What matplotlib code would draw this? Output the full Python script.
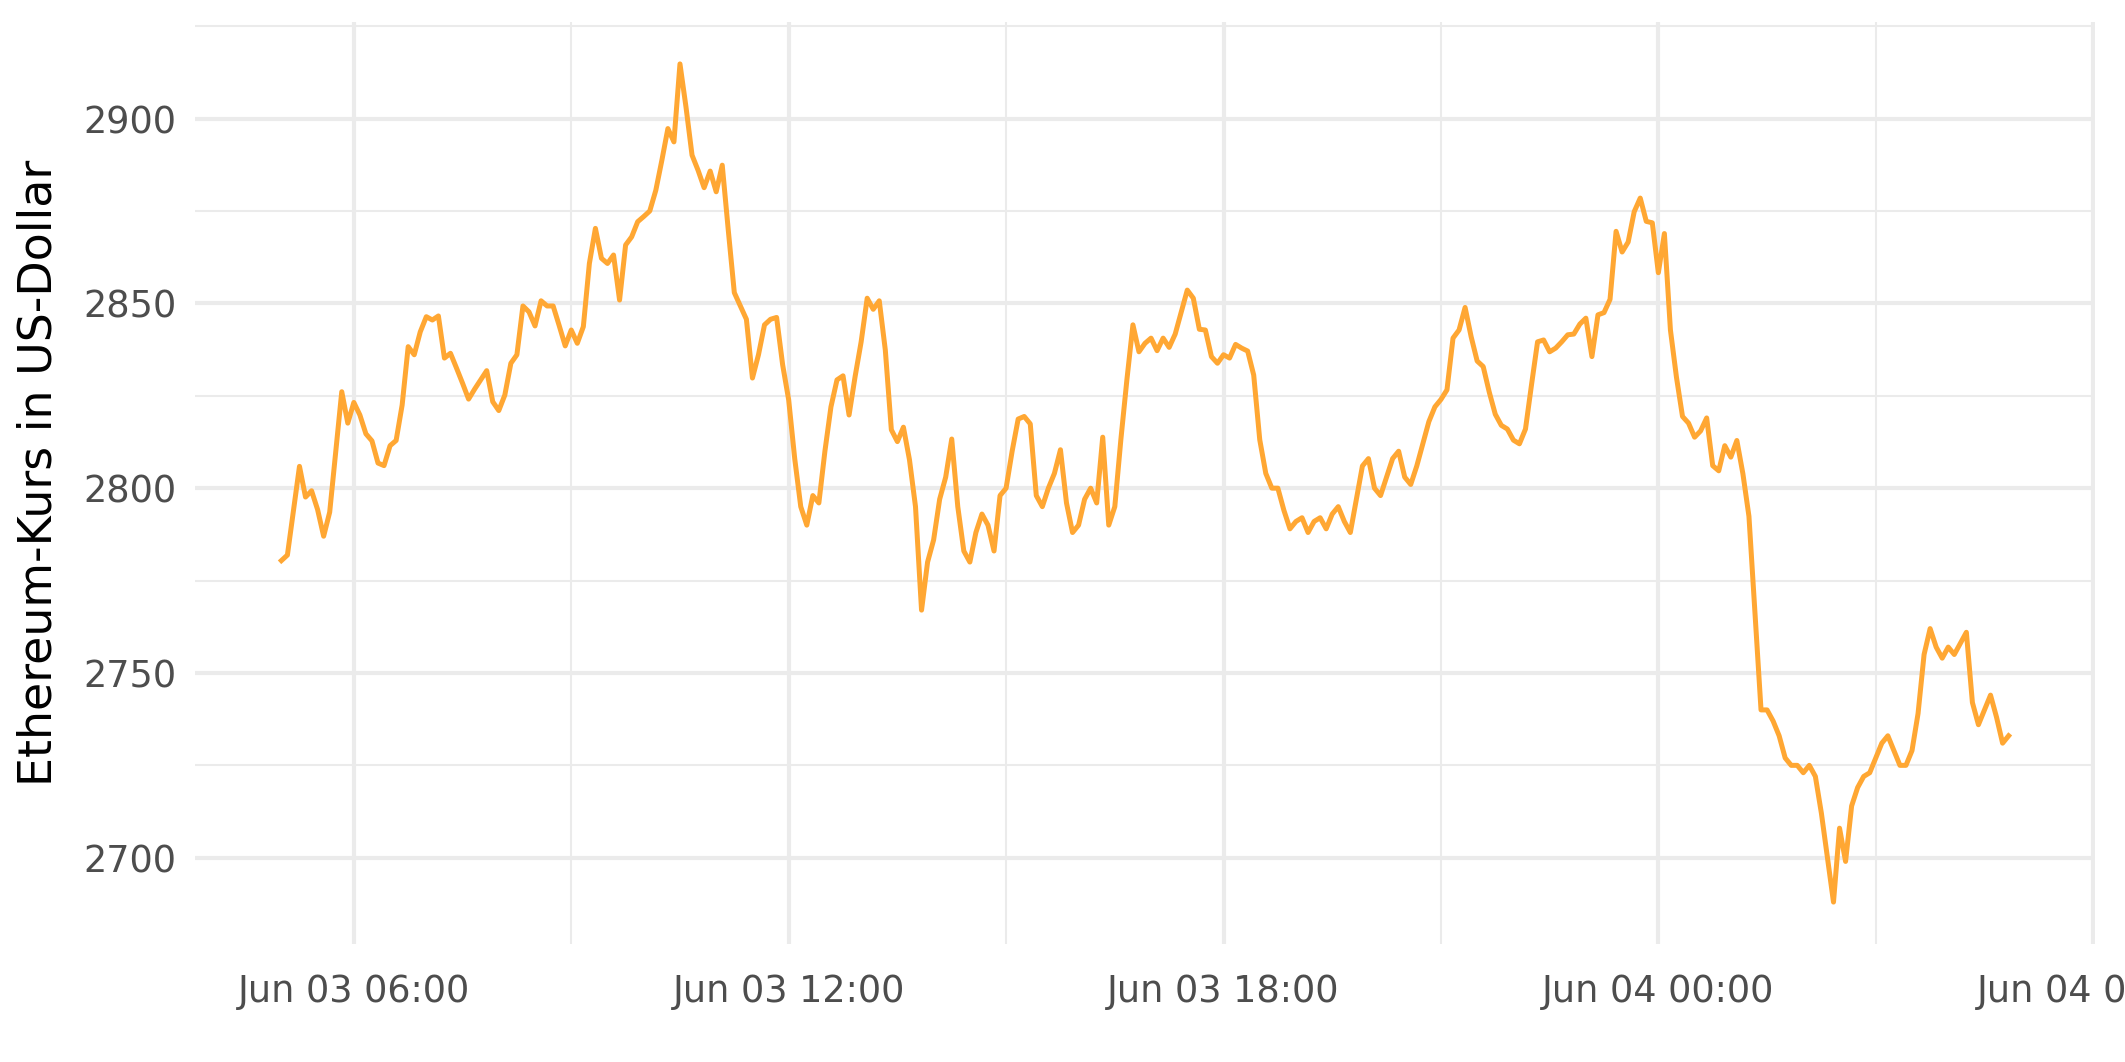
import numpy as np
import pandas as pd
import matplotlib
matplotlib.use("Agg")
import matplotlib.pyplot as plt
import matplotlib.dates as mdates

# Ethereum price, 5-minute steps starting Jun 03 05:00
start_zeit = "2025-06-03 05:00"
schritt = "5min"
kurs = [
    2780.4, 2781.9, 2794.0, 2805.9, 2797.6, 2799.3, 2794.2, 2787.0, 2793.5, 2809.9,
    2826.1, 2817.6, 2823.2, 2819.8, 2814.7, 2812.8, 2806.8, 2806.1, 2811.5, 2812.9,
    2822.5, 2838.3, 2836.1, 2842.3, 2846.4, 2845.5, 2846.6, 2835.2, 2836.5, 2832.5,
    2828.4, 2824.1, 2826.8, 2829.3, 2831.8, 2823.4, 2821.0, 2825.2, 2833.8, 2836.1,
    2849.3, 2847.7, 2843.9, 2850.7, 2849.3, 2849.3, 2844.0, 2838.5, 2842.8, 2839.2,
    2843.7, 2860.8, 2870.3, 2862.2, 2860.8, 2863.1, 2850.9, 2865.8, 2868.0, 2872.1,
    2873.5, 2875.0, 2880.6, 2888.7, 2897.3, 2893.7, 2914.8, 2903.1, 2890.1, 2886.0,
    2881.3, 2885.8, 2880.2, 2887.4, 2869.8, 2852.9, 2849.3, 2845.7, 2829.8, 2836.1,
    2844.2, 2845.7, 2846.2, 2833.4, 2823.9, 2808.0, 2795.0, 2790.0, 2798.0, 2796.0,
    2810.0, 2822.0, 2829.3, 2830.4, 2819.8, 2830.2, 2839.6, 2851.4, 2848.4, 2850.7,
    2837.4, 2815.8, 2812.6, 2816.5, 2807.7, 2795.0, 2767.0, 2780.0, 2786.0, 2797.0,
    2803.0, 2813.3, 2795.0, 2783.0, 2780.0, 2788.0, 2793.0, 2790.0, 2783.0, 2798.0,
    2800.0, 2810.0, 2818.7, 2819.4, 2817.4, 2798.0, 2795.0, 2800.0, 2804.0, 2810.4,
    2796.0, 2788.0, 2790.0, 2797.0, 2800.0, 2796.0, 2813.8, 2790.0, 2795.0, 2813.1,
    2829.3, 2844.2, 2836.9, 2839.2, 2840.6, 2837.2, 2840.6, 2838.1, 2841.7, 2847.7,
    2853.6, 2851.4, 2843.0, 2842.8, 2835.6, 2833.8, 2836.1, 2835.2, 2838.9, 2837.9,
    2837.1, 2830.6, 2813.1, 2804.0, 2800.0, 2800.0, 2794.0, 2789.0, 2791.0, 2792.0,
    2788.0, 2791.0, 2792.0, 2789.0, 2793.0, 2795.0, 2791.0, 2788.0, 2797.0, 2806.0,
    2808.0, 2800.0, 2798.0, 2803.0, 2808.0, 2810.0, 2803.0, 2801.0, 2806.0, 2812.0,
    2818.0, 2822.0, 2824.0, 2826.6, 2840.6, 2842.8, 2848.9, 2841.0, 2834.4, 2832.9,
    2826.0, 2820.0, 2817.0, 2816.0, 2813.0, 2812.0, 2816.0, 2828.0, 2839.6, 2840.1,
    2836.9, 2837.9, 2839.6, 2841.5, 2841.7, 2844.4, 2846.0, 2835.6, 2846.9, 2847.5,
    2851.1, 2869.5, 2863.9, 2866.6, 2874.8, 2878.5, 2872.2, 2871.8, 2858.3, 2868.9,
    2842.8, 2830.0, 2819.4, 2817.6, 2813.8, 2815.5, 2819.0, 2806.1, 2804.7, 2811.5,
    2808.4, 2812.9, 2803.9, 2792.4, 2766.0, 2740.0, 2740.0, 2737.0, 2733.0, 2727.0,
    2725.0, 2725.0, 2723.0, 2725.0, 2722.0, 2712.0, 2700.0, 2688.0, 2708.0, 2699.0,
    2714.0, 2719.0, 2722.0, 2723.0, 2727.0, 2731.0, 2733.0, 2729.0, 2725.0, 2725.0,
    2729.0, 2739.0, 2755.0, 2762.0, 2757.0, 2754.0, 2757.0, 2755.0, 2758.0, 2761.0,
    2742.0, 2736.0, 2740.0, 2744.0, 2738.0, 2731.0, 2733.0,
]
y_ticks = [2700, 2750, 2800, 2850, 2900]
y_minor = [2725, 2775, 2825, 2875, 2925]
y_label = "Ethereum-Kurs in US-Dollar"

zeit = pd.date_range(start_zeit, periods=len(kurs), freq=schritt)

fig = plt.figure(figsize=(2125 / 300, 1062 / 300), dpi=300)
ax = fig.add_axes([195 / 2125, 1 - 944 / 1062, (2095 - 195) / 2125, (944 - 22) / 1062])

ax.plot(zeit, kurs, color="#FFA733", linewidth=1.2)

# ggplot-like 5 % expansion
t0, t1 = mdates.date2num(zeit[0]), mdates.date2num(zeit[-1])
dt = (t1 - t0) * 0.05
ax.set_xlim(t0 - dt, t1 + dt)
lo, hi = min(kurs), max(kurs)
dy = (hi - lo) * 0.05
ax.set_ylim(lo - dy, hi + dy)

ax.xaxis.set_major_locator(mdates.HourLocator(byhour=[0, 6, 12, 18]))
ax.xaxis.set_minor_locator(mdates.HourLocator(byhour=[3, 9, 15, 21]))
ax.xaxis.set_major_formatter(mdates.DateFormatter("%b %d %H:%M"))
ax.set_yticks(y_ticks)
ax.set_yticks(y_minor, minor=True)

ax.grid(which="major", color="#EBEBEB", linewidth=1.0)
ax.grid(which="minor", color="#EBEBEB", linewidth=0.5)
ax.set_axisbelow(True)
for s in ax.spines.values():
    s.set_visible(False)

ax.tick_params(which="both", length=0)
ax.tick_params(axis="x", labelsize=8.8, labelcolor="#4D4D4D", pad=7)
ax.tick_params(axis="y", labelsize=8.8, labelcolor="#4D4D4D", pad=4.4)
ax.set_ylabel(y_label, fontsize=11, color="black")
ax.yaxis.set_label_coords(-0.0703, 0.511)

fig.savefig("out.png", dpi=300)
